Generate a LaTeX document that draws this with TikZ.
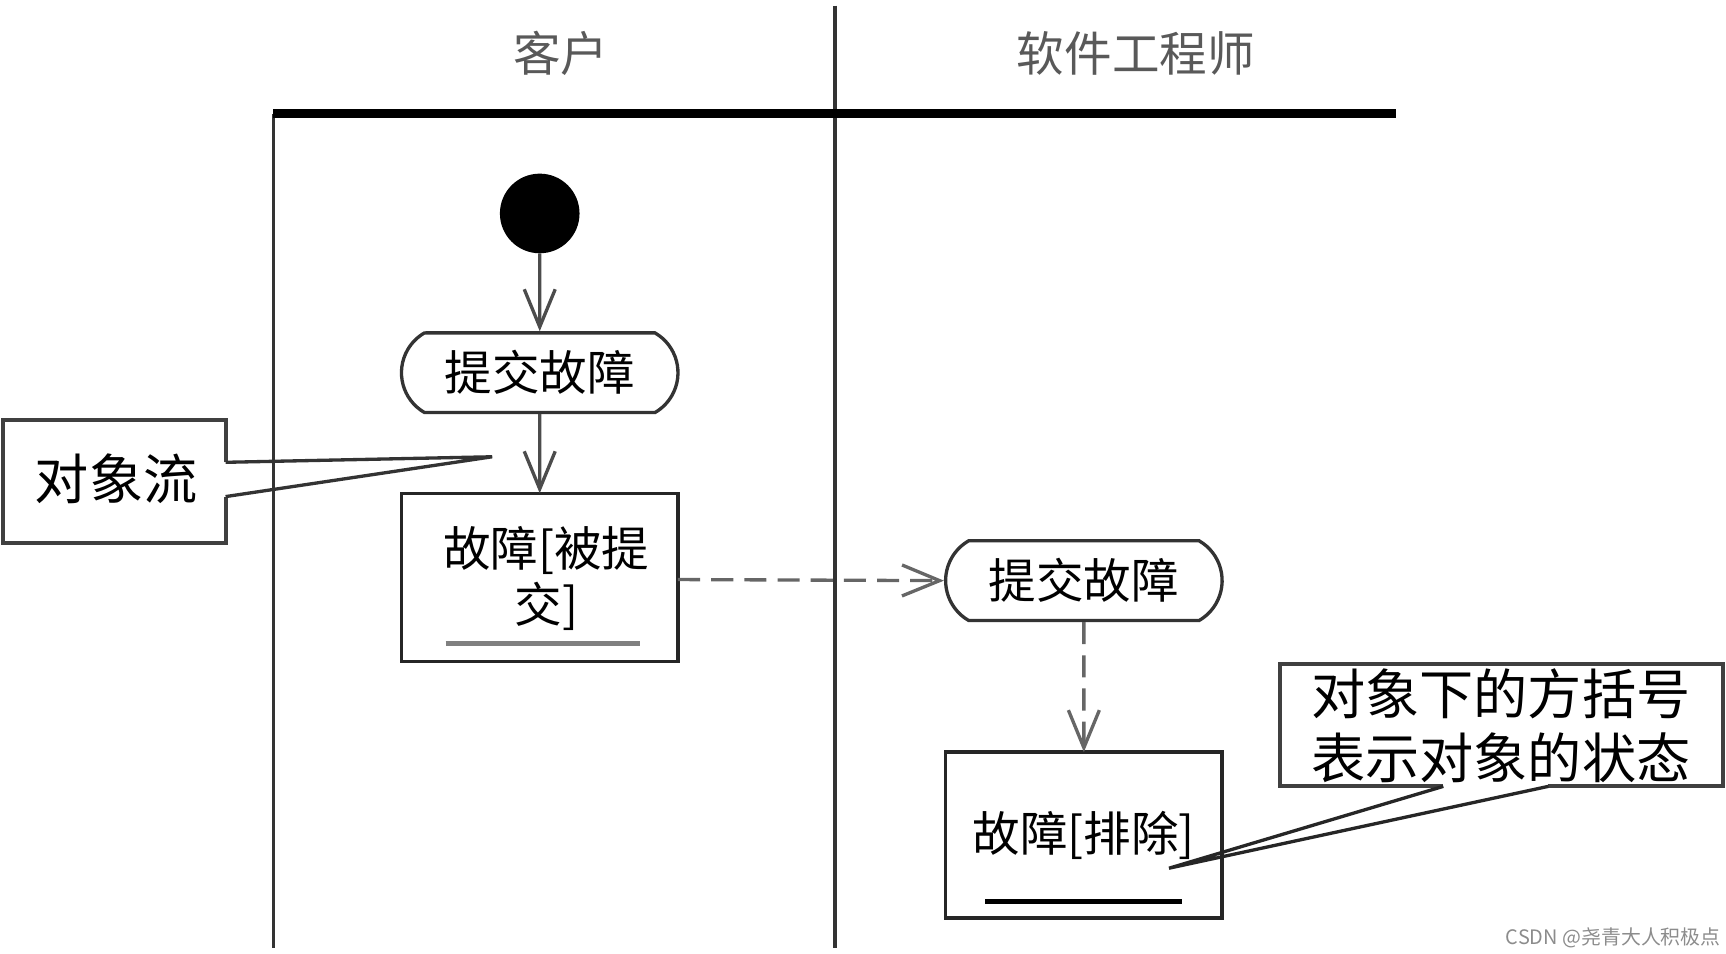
\documentclass[tikz,border=0pt]{standalone}
\usepackage{fontspec}
\newfontfamily\cjk{Noto Sans CJK SC}
\usetikzlibrary{arrows.meta,shapes.misc}
\begin{document}
\begin{tikzpicture}[x=1pt,y=-1pt,
  lane/.style={line width=3pt,draw=black!80},
  stadium/.style={rounded rectangle,rounded rectangle arc length=120,draw=black!80,line width=3pt,minimum width=250pt,minimum height=72pt,inner sep=0pt,font=\cjk\fontsize{43}{46}\selectfont},
  objbox/.style={draw=black!85,line width=3pt,fill=white},
  notebox/.style={draw=black!75,line width=3.5pt},
  flow/.style={line width=3pt,draw=black!70,-{Straight Barb[length=34pt,width=28pt,line width=3pt]}},
  dflow/.style={line width=3pt,draw=black!60,dash pattern=on 20pt off 10pt,-{Straight Barb[length=34pt,width=28pt,line width=3pt]}},
  lbl/.style={inner sep=0pt,font=\cjk\fontsize{43}{50}\selectfont,align=center},
  notetxt/.style={inner sep=0pt,font=\cjk\fontsize{49}{58}\selectfont,align=center},
  head/.style={inner sep=0pt,text=black!65,font=\cjk\fontsize{43}{46}\selectfont}
]
\useasboundingbox (0,0) rectangle (1560.6,861.7);
% swimlanes
\node[head] (h1) at (507,48) {客户};
\node[head] (h2) at (1027,48) {软件工程师};
\coordinate (d1) at (755,5);
\coordinate (d2) at (755,857);
\coordinate (l1) at (247,103);
\coordinate (l2) at (247,857);
\coordinate (b1) at (247,103);
\coordinate (b2) at (1262,103);
\draw[lane] (d1) -- (d2);
\draw[lane] (l1) -- (l2);
\draw[line width=8pt,black] (b1) -- (b2);
% start
\node[circle,fill=black,minimum size=72pt,inner sep=0pt] (start) at (488,193) {};
% activity 1
\node[stadium] (a1) at (488,337) {提交故障};
% object 1
\draw[objbox] (363,446) rectangle (613,598);
\coordinate (o1top) at (488,446);
\coordinate (o1right) at (613,524);
\node[lbl] (o1t) at (494,523) {故障[被提\\交]};
\coordinate (u1a) at (403,582);
\coordinate (u1b) at (579,582);
\draw[line width=5pt,black!50] (u1a) -- (u1b);
% flows
\draw[flow] (start) -- (a1);
\draw[flow] (a1) -- (o1top);
% activity 2
\node[stadium] (a2) at (980,525) {提交故障};
\draw[dflow] (o1right) -- (a2.west);
% object 2
\draw[objbox] (855,680) rectangle (1105,830);
\coordinate (o2top) at (980,680);
\node[lbl] (o2t) at (980,755) {故障[排除]};
\coordinate (u2a) at (891,815);
\coordinate (u2b) at (1069,815);
\draw[line width=4pt,black] (u2a) -- (u2b);
\draw[dflow] (a2) -- (o2top);
% note 1
\coordinate (n1a) at (204,418);
\coordinate (n1b) at (204,449);
\coordinate (n1tip) at (445,413);
\draw[notebox,line join=miter] (n1a) -- (204,380) -- (3,380) -- (3,491) -- (204,491) -- (n1b);
\draw[line width=3pt,black!80] (n1a) -- (n1tip) -- (n1b);
\node[notetxt] (n1t) at (105,433) {对象流};
% note 2
\coordinate (n2a) at (1305,711);
\coordinate (n2b) at (1400,711);
\coordinate (n2tip) at (1057,785);
\draw[notebox,line join=miter] (n2a) -- (1157,711) -- (1157,600) -- (1558,600) -- (1558,711) -- (n2b);
\draw[line width=3pt,black!85] (n2a) -- (n2tip) -- (n2b);
\node[notetxt] (n2t) at (1357,656) {对象下的方括号\\表示对象的状态};
% watermark
\node[inner sep=0pt,anchor=east,text=black!45,font=\cjk\fontsize{18}{20}\selectfont] (wm) at (1556,848) {CSDN @尧青大人积极点};
\end{tikzpicture}
\end{document}
